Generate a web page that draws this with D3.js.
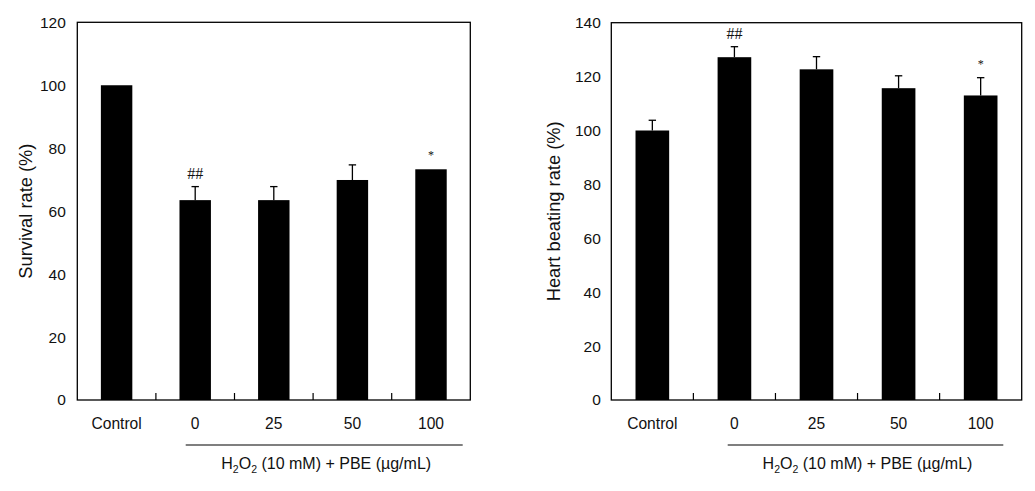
<!DOCTYPE html>
<html>
<head>
<meta charset="utf-8">
<script src="https://cdn.jsdelivr.net/npm/d3@7"></script>
<style>
  html, body { margin: 0; padding: 0; background: #fff; }
  svg { display: block; }
  text { font-family: "Liberation Sans", Arial, sans-serif; fill: #111; }
</style>
</head>
<body>
<svg id="chart" width="1035" height="491"></svg>
<script>
// ---- Data ----
const categories = ["Control", "0", "25", "50", "100"];

const survivalValues = [100, 63.5, 63.5, 69.9, 73.3];
const survivalErrors = [0, 4.3, 4.3, 4.8, 0];
const survivalMarks  = ["", "##", "", "", "*"];
const survivalTicks  = [0, 20, 40, 60, 80, 100, 120];

const heartValues = [100, 127.2, 122.7, 115.7, 113.0];
const heartErrors = [3.8, 3.9, 4.7, 4.6, 6.6];
const heartMarks  = ["", "##", "", "", "*"];
const heartTicks  = [0, 20, 40, 60, 80, 100, 120, 140];

const groupLabel = ["H", "2", "O", "2", " (10 mM) + PBE (µg/mL)"];

// ---- Drawing ----
const svg = d3.select("#chart");

function drawPanel(cfg) {
  const g = svg.append("g");
  const x = d3.scaleBand().domain(categories).range([cfg.x0, cfg.x1]).paddingInner(0).paddingOuter(0);
  const y = d3.scaleLinear().domain([0, d3.max(cfg.ticks)]).range([cfg.y1, cfg.y0]);
  const bw = x.bandwidth() * cfg.barRatio;

  // frame
  g.append("rect")
    .attr("x", cfg.x0).attr("y", cfg.y0)
    .attr("width", cfg.x1 - cfg.x0).attr("height", cfg.y1 - cfg.y0)
    .attr("fill", "none").attr("stroke", "#000").attr("stroke-width", 1.3);

  // y axis labels
  const yAxis = d3.axisLeft(y).tickValues(cfg.ticks).tickSize(0).tickPadding(cfg.tickPad);
  const ya = g.append("g").attr("transform", `translate(${cfg.x0},0)`).call(yAxis);
  ya.select(".domain").remove();
  ya.selectAll("text").style("font-size", "15.5px").style("font-family", '"Liberation Sans", Arial, sans-serif').attr("fill", "#111");

  // x axis: inward ticks at band boundaries
  const bounds = categories.slice(1).map(c => x(c));
  g.selectAll(".xt").data(bounds).enter().append("line")
    .attr("x1", d => d).attr("x2", d => d)
    .attr("y1", cfg.y1).attr("y2", cfg.y1 - 7)
    .attr("stroke", "#000").attr("stroke-width", 1.2);

  // category labels
  g.selectAll(".cl").data(categories).enter().append("text")
    .attr("x", d => x(d) + x.bandwidth() / 2)
    .attr("y", cfg.y1 + 23)
    .attr("text-anchor", "middle").attr("dominant-baseline", "central")
    .style("font-size", "15.6px")
    .text(d => d);

  // error bars (upward)
  const data = categories.map((c, i) => ({c, v: cfg.values[i], e: cfg.errors[i], m: cfg.marks[i]}));
  const eb = data.filter(d => d.e > 0);
  g.selectAll(".ev").data(eb).enter().append("line")
    .attr("x1", d => x(d.c) + x.bandwidth() / 2).attr("x2", d => x(d.c) + x.bandwidth() / 2)
    .attr("y1", d => y(d.v)).attr("y2", d => y(d.v + d.e))
    .attr("stroke", "#000").attr("stroke-width", 1.3);
  g.selectAll(".ec").data(eb).enter().append("line")
    .attr("x1", d => x(d.c) + x.bandwidth() / 2 - 3.7).attr("x2", d => x(d.c) + x.bandwidth() / 2 + 3.7)
    .attr("y1", d => y(d.v + d.e)).attr("y2", d => y(d.v + d.e))
    .attr("stroke", "#000").attr("stroke-width", 1.3);

  // bars
  g.selectAll(".bar").data(data).enter().append("rect")
    .attr("x", d => x(d.c) + (x.bandwidth() - bw) / 2)
    .attr("y", d => y(d.v))
    .attr("width", bw)
    .attr("height", d => cfg.y1 - y(d.v))
    .attr("fill", "#000");

  // significance marks
  g.selectAll(".mk").data(data.filter(d => d.m)).enter().append("text")
    .attr("x", d => x(d.c) + x.bandwidth() / 2)
    .attr("y", d => y(d.v + d.e) - (d.m === "*" ? 14 : 13))
    .attr("text-anchor", "middle").attr("dominant-baseline", "central")
    .style("font-family", '"Liberation Serif", "Times New Roman", serif')
    .style("font-size", d => d.m === "*" ? "12px" : "16px")
    .text(d => d.m);

  // y title
  g.append("text")
    .attr("transform", `translate(${cfg.titleX},${(cfg.y0 + cfg.y1) / 2}) rotate(-90)`)
    .attr("text-anchor", "middle").attr("dominant-baseline", "central")
    .style("font-size", "18.3px")
    .text(cfg.title);

  // group line
  g.append("line")
    .attr("x1", cfg.lineX0).attr("x2", cfg.lineX1)
    .attr("y1", cfg.y1 + 45).attr("y2", cfg.y1 + 45)
    .attr("stroke", "#000").attr("stroke-width", 1.2);

  // group label with subscripts
  const t = g.append("text")
    .attr("x", (cfg.lineX0 + cfg.lineX1) / 2 + 2)
    .attr("y", cfg.y1 + 69)
    .attr("text-anchor", "middle")
    .style("font-size", "16px");
  groupLabel.forEach((s, i) => {
    const sub = (i === 1 || i === 3);
    const ts = t.append("tspan").text(s);
    if (sub) ts.style("font-size", "10.5px").attr("dy", 4);
    else if (i > 0) ts.attr("dy", -4);
  });
}

drawPanel({
  x0: 77.3, x1: 470.3, y0: 22.3, y1: 400,
  ticks: survivalTicks, values: survivalValues, errors: survivalErrors, marks: survivalMarks,
  barRatio: 0.40, tickPad: 11.5, titleX: 25, title: "Survival rate (%)",
  lineX0: 185.7, lineX1: 462.7
});

drawPanel({
  x0: 611.3, x1: 1021.7, y0: 22.7, y1: 400,
  ticks: heartTicks, values: heartValues, errors: heartErrors, marks: heartMarks,
  barRatio: 0.41, tickPad: 10.5, titleX: 553, title: "Heart beating rate (%)",
  lineX0: 727.7, lineX1: 1003.3
});
</script>
</body>
</html>
